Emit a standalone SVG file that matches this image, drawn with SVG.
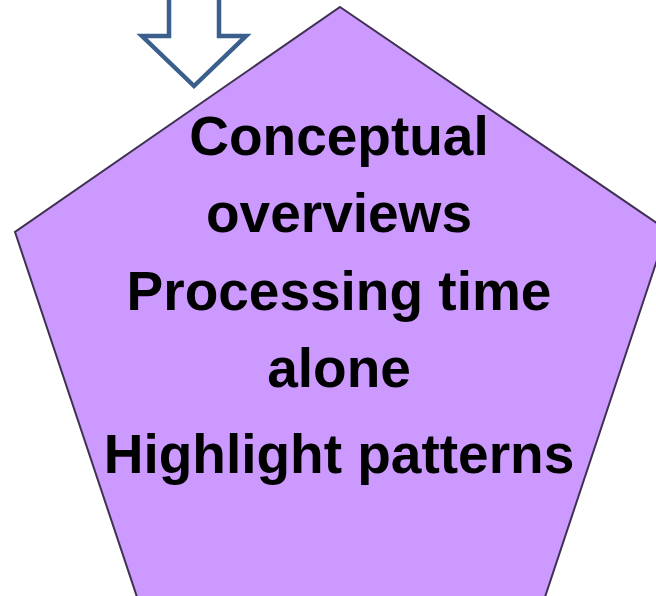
<svg xmlns="http://www.w3.org/2000/svg" width="656" height="596" viewBox="0 0 656 596">
<style>
.lbl{font-family:"Liberation Sans",Arial,sans-serif;font-weight:bold;font-size:55px;fill:#000;text-anchor:middle}
</style>
<rect width="656" height="596" fill="#fff"/>
<g id="pentagon">
<polygon points="340,7 667,230 545,597 137,597 15,232" fill="#cc99ff" stroke="#3f3151" stroke-width="2"/>
<text class="lbl" x="339" y="155">Conceptual</text>
<text class="lbl" x="339" y="232">overviews</text>
<text class="lbl" x="339" y="310">Processing time</text>
<text class="lbl" x="339" y="387">alone</text>
<text class="lbl" x="339" y="473">Highlight patterns</text>
</g>
<g id="connectors">
<polygon points="169,-5 219,-5 219,36 246,36 194,86 142,36 169,36" fill="#fff" stroke="#3a5f8c" stroke-width="4.5" stroke-linejoin="miter"/>
</g>
</svg>
